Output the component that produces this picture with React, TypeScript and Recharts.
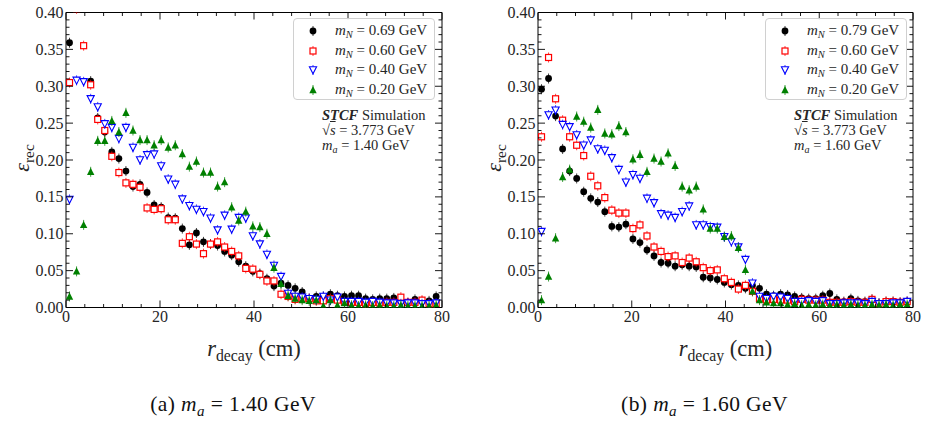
import React from "react";
import { ScatterChart, Scatter, XAxis, YAxis } from "recharts";

const FONT = '"Liberation Serif", "Times New Roman", serif';

// bin centres (cm)
const R_BINS = [0.75, 2.25, 3.75, 5.25, 6.75, 8.25, 9.75, 11.25, 12.75, 14.25, 15.75, 17.25, 18.75, 20.25, 21.75, 23.25, 24.75, 26.25, 27.75, 29.25, 30.75, 32.25, 33.75, 35.25, 36.75, 38.25, 39.75, 41.25, 42.75, 44.25, 45.75, 47.25, 48.75, 50.25, 51.75, 53.25, 54.75, 56.25, 57.75, 59.25, 60.75, 62.25, 63.75, 65.25, 66.75, 68.25, 69.75, 71.25, 72.75, 74.25, 75.75, 77.25, 78.75];

const X_TICKS = [0, 4, 8, 12, 16, 20, 24, 28, 32, 36, 40, 44, 48, 52, 56, 60, 64, 68, 72, 76, 80];
const Y_TICKS = [0, 0.01, 0.02, 0.03, 0.04, 0.05, 0.06, 0.07, 0.08, 0.09, 0.1, 0.11, 0.12, 0.13, 0.14, 0.15, 0.16, 0.17, 0.18, 0.19, 0.2, 0.21, 0.22, 0.23, 0.24, 0.25, 0.26, 0.27, 0.28, 0.29, 0.3, 0.31, 0.32, 0.33, 0.34, 0.35, 0.36, 0.37, 0.38, 0.39, 0.4];

// ---- panel (a): m_a = 1.40 GeV ----
const LEFT_MA = "1.40";
const LEFT_MN = ["0.69", "0.60", "0.40", "0.20"];
const LEFT_A = [0.359, null, null, 0.307, 0.257, 0.238, 0.211, 0.202, 0.185, 0.164, 0.167, 0.156, 0.139, 0.136, 0.122, 0.121, 0.107, 0.085, 0.101, 0.089, 0.086, 0.084, 0.076, 0.071, 0.062, 0.056, 0.049, 0.046, 0.039, 0.029, 0.033, 0.030, 0.026, 0.021, 0.012, 0.015, 0.015, 0.018, 0.016, 0.015, 0.016, 0.016, 0.012, 0.011, 0.012, 0.012, 0.013, 0.008, 0.006, 0.011, 0.008, 0.009, 0.015];
const LEFT_B = [0.305, 0.405, 0.355, 0.302, 0.255, 0.240, 0.205, 0.183, 0.169, 0.167, 0.163, 0.135, 0.133, 0.134, 0.119, 0.119, 0.087, 0.096, 0.086, 0.073, 0.086, 0.089, 0.082, 0.076, 0.070, 0.053, 0.052, 0.045, 0.036, 0.036, 0.018, 0.015, 0.011, 0.012, 0.012, 0.009, 0.009, 0.012, 0.010, 0.007, 0.007, 0.007, 0.005, 0.007, 0.006, 0.007, 0.007, 0.014, 0.007, 0.007, 0.010, 0.005, 0.005];
const LEFT_C = [0.1465, 0.308, 0.306, 0.283, 0.272, 0.249, 0.244, 0.229, 0.244, 0.217, 0.200, 0.207, 0.208, 0.192, 0.174, 0.167, 0.147, 0.138, 0.133, 0.130, 0.121, 0.105, 0.125, 0.106, 0.122, 0.121, 0.097, 0.086, 0.072, 0.057, 0.042, 0.019, 0.015, 0.014, 0.012, 0.011, 0.015, 0.010, 0.014, 0.008, 0.008, 0.008, 0.007, 0.008, 0.007, 0.006, 0.006, 0.005, 0.006, 0.006, 0.005, 0.005, 0.006];
const LEFT_D = [0.015, 0.049, 0.112, 0.184, 0.226, 0.226, 0.253, 0.238, 0.264, 0.240, 0.227, 0.227, 0.220, 0.227, 0.217, 0.220, 0.208, 0.191, 0.198, 0.183, 0.183, 0.164, 0.170, 0.136, 0.118, 0.130, 0.110, 0.109, 0.100, 0.054, 0.032, 0.016, 0.012, 0.010, 0.009, 0.010, 0.002, 0.010, 0.003, 0.006, 0.003, 0.002, 0.003, 0.002, 0.003, 0.002, 0.002, 0.003, 0.002, 0.002, 0.002, 0.002, 0.003];

// ---- panel (b): m_a = 1.60 GeV ----
const RIGHT_MA = "1.60";
const RIGHT_MN = ["0.79", "0.60", "0.40", "0.20"];
const RIGHT_A = [0.296, 0.3105, 0.2595, 0.215, 0.185, 0.175, 0.157, 0.148, 0.143, 0.130, 0.110, 0.109, 0.113, 0.093, 0.088, 0.078, 0.070, 0.061, 0.060, 0.056, 0.058, 0.056, 0.055, 0.041, 0.040, 0.038, 0.034, 0.031, 0.030, 0.026, 0.030, 0.026, 0.018, 0.016, 0.018, 0.017, 0.015, 0.013, 0.012, 0.012, 0.016, 0.019, 0.011, 0.008, 0.012, 0.009, 0.008, 0.011, 0.006, 0.008, 0.008, 0.007, 0.008];
const RIGHT_B = [0.2315, 0.339, 0.283, 0.254, 0.2315, 0.220, 0.206, 0.178, 0.165, 0.149, 0.132, 0.128, 0.128, 0.107, 0.112, 0.097, 0.082, 0.076, 0.069, 0.070, 0.061, 0.067, 0.062, 0.054, 0.050, 0.051, 0.039, 0.034, 0.025, 0.030, 0.022, 0.012, 0.010, 0.011, 0.010, 0.010, 0.008, 0.011, 0.010, 0.010, 0.010, 0.007, 0.007, 0.007, 0.008, 0.007, 0.007, 0.011, 0.005, 0.008, 0.008, 0.007, 0.008];
const RIGHT_C = [0.103, 0.261, 0.2676, 0.248, 0.245, 0.234, 0.220, 0.227, 0.215, 0.213, 0.203, 0.187, 0.170, 0.180, 0.175, 0.148, 0.142, 0.127, 0.125, 0.122, 0.130, 0.1375, 0.112, 0.112, 0.1095, 0.1087, 0.096, 0.089, 0.082, 0.065, 0.033, 0.015, 0.012, 0.015, 0.014, 0.012, 0.008, 0.008, 0.009, 0.008, 0.009, 0.005, 0.005, 0.006, 0.006, 0.006, 0.005, 0.008, 0.005, 0.005, 0.006, 0.006, 0.008];
const RIGHT_D = [0.010, 0.042, 0.094, 0.177, 0.187, 0.259, 0.252, 0.244, 0.268, 0.236, 0.235, 0.246, 0.238, 0.201, 0.207, 0.184, 0.202, 0.198, 0.209, 0.192, 0.164, 0.159, 0.164, 0.133, 0.107, 0.107, 0.096, 0.097, 0.081, 0.051, 0.022, 0.010, 0.007, 0.006, 0.006, 0.004, 0.005, 0.003, 0.004, 0.003, 0.004, 0.003, 0.004, 0.003, 0.004, 0.003, 0.003, 0.004, 0.003, 0.004, 0.003, 0.004, 0.004];

const COLORS = ["#000000", "#ff0000", "#0000ff", "#008000"];

type Pt = { r: number; v: number };
const mk = (vals: (number | null)[]): Pt[] =>
  R_BINS.map((r, i) => ({ r, v: vals[i] as number })).filter((d) => d.v !== null && d.v !== undefined);

// ---------- marker shapes ----------
const BAR = 5;
function MarkerGlyph({ kind, cx, cy }: { kind: number; cx: number; cy: number }) {
  const c = COLORS[kind];
  const bar = (
    <line x1={cx} x2={cx} y1={cy - BAR} y2={cy + BAR} stroke={c} strokeWidth={1} strokeOpacity={0.75} />
  );
  if (kind === 0)
    return (
      <g>
        {bar}
        <circle cx={cx} cy={cy} r={3.4} fill={c} />
      </g>
    );
  if (kind === 1)
    return (
      <g>
        {bar}
        <rect x={cx - 3} y={cy - 3} width={6} height={6} fill="#fff" stroke={c} strokeWidth={1.2} />
      </g>
    );
  if (kind === 2)
    return (
      <g>
        {bar}
        <polygon
          points={`${cx - 3.6},${cy - 3.2} ${cx + 3.6},${cy - 3.2} ${cx},${cy + 3.8}`}
          fill="#fff"
          stroke={c}
          strokeWidth={1.1}
        />
      </g>
    );
  return (
    <g>
      {bar}
      <polygon points={`${cx - 3.7},${cy + 3.2} ${cx + 3.7},${cy + 3.2} ${cx},${cy - 4}`} fill={c} />
    </g>
  );
}

const shapeFor = (kind: number) => (p: any) => <MarkerGlyph kind={kind} cx={p.cx} cy={p.cy} />;

// ---------- ticks ----------
const isMajorX = (v: number) => Math.abs(v % 20) < 1e-6;
const isMajorY = (v: number) => Math.round(v * 100) % 5 === 0;
const MAJ = 7;
const MIN = 3.5;
const TICK_FS = 16;
const TICK_COLOR = "#262626";

const BottomTick = (p: any) => {
  const v = p.payload.value;
  const m = isMajorX(v);
  return (
    <g>
      <line x1={p.x} x2={p.x} y1={p.y} y2={p.y - (m ? MAJ : MIN)} stroke="#000" strokeWidth={0.9} />
      {m && (
        <text x={p.x} y={p.y + 14.5} textAnchor="middle" fontFamily={FONT} fontSize={TICK_FS} fill={TICK_COLOR}>
          {v}
        </text>
      )}
    </g>
  );
};
const TopTick = (p: any) => {
  const v = p.payload.value;
  const m = isMajorX(v);
  return <line x1={p.x} x2={p.x} y1={p.y} y2={p.y + (m ? MAJ : MIN)} stroke="#000" strokeWidth={0.9} />;
};
const LeftTick = (p: any) => {
  const v = p.payload.value;
  const m = isMajorY(v);
  return (
    <g>
      <line x1={p.x} x2={p.x + (m ? MAJ : MIN)} y1={p.y} y2={p.y} stroke="#000" strokeWidth={0.9} />
      {m && (
        <text x={p.x - 2.5} y={p.y + 5.5} textAnchor="end" fontFamily={FONT} fontSize={TICK_FS} fill={TICK_COLOR}>
          {v.toFixed(2)}
        </text>
      )}
    </g>
  );
};
const RightTick = (p: any) => {
  const v = p.payload.value;
  const m = isMajorY(v);
  return <line x1={p.x} x2={p.x - (m ? MAJ : MIN)} y1={p.y} y2={p.y} stroke="#000" strokeWidth={0.9} />;
};

// ---------- text helpers ----------
const Sub = ({ children, italic }: { children: React.ReactNode; italic?: boolean }) => (
  <span style={{ fontSize: "0.7em", position: "relative", top: "0.3em", fontStyle: italic ? "italic" : "normal" }}>
    {children}
  </span>
);

const CHART_H = 330;
const TOP_H = 12.5;
const BOTTOM_H = 22.5;
const LEFT_W = 66;

function Panel({
  left,
  width,
  rightW,
  series,
  mn,
  ma,
  tag,
}: {
  left: number;
  width: number;
  rightW: number;
  series: (number | null)[][];
  mn: string[];
  ma: string;
  tag: string;
}) {
  const plotL = LEFT_W;
  const plotR = width - rightW;
  const plotCx = (plotL + plotR) / 2;
  const legendL = plotL + 227;
  const annoLines = [
    <>
      <b>
        <i>STCF</i>
      </b>{" "}
      Simulation
    </>,
    <>
      √<span style={{ textDecoration: "overline", fontStyle: "italic" }}>s</span> = 3.773 GeV
    </>,
    <>
      <i>m</i>
      <Sub italic>a</Sub> = {ma} GeV
    </>,
  ];
  return (
    <div style={{ position: "absolute", left, top: 0, width, height: 423, fontFamily: FONT }}>
      <ScatterChart width={width} height={CHART_H} margin={{ top: 0, right: 0, bottom: 0, left: 0 }}>
        <XAxis
          xAxisId="b"
          type="number"
          dataKey="r"
          domain={[0, 80]}
          allowDataOverflow
          ticks={X_TICKS}
          interval={0}
          height={BOTTOM_H}
          orientation="bottom"
          tickLine={false}
          tickSize={0}
          tickMargin={0}
          axisLine={{ stroke: "#000", strokeWidth: 1 }}
          tick={BottomTick}
        />
        <XAxis
          xAxisId="t"
          type="number"
          dataKey="r"
          domain={[0, 80]}
          allowDataOverflow
          ticks={X_TICKS}
          interval={0}
          height={TOP_H}
          orientation="top"
          tickLine={false}
          tickSize={0}
          tickMargin={0}
          axisLine={{ stroke: "#000", strokeWidth: 1 }}
          tick={TopTick}
        />
        <YAxis
          yAxisId="l"
          type="number"
          dataKey="v"
          domain={[0, 0.4]}
          allowDataOverflow
          ticks={Y_TICKS}
          interval={0}
          width={LEFT_W}
          orientation="left"
          tickLine={false}
          tickSize={0}
          tickMargin={0}
          axisLine={{ stroke: "#000", strokeWidth: 1 }}
          tick={LeftTick}
        />
        <YAxis
          yAxisId="r"
          type="number"
          dataKey="v"
          domain={[0, 0.4]}
          allowDataOverflow
          ticks={Y_TICKS}
          interval={0}
          width={rightW}
          orientation="right"
          tickLine={false}
          tickSize={0}
          tickMargin={0}
          axisLine={{ stroke: "#000", strokeWidth: 1 }}
          tick={RightTick}
        />
        <Scatter
          data={mk(series[0])}
          xAxisId="t"
          yAxisId="r"
          shape={() => <g />}
          isAnimationActive={false}
        />
        {series.map((s, k) => (
          <Scatter
            key={k}
            data={mk(s)}
            xAxisId="b"
            yAxisId="l"
            shape={shapeFor(k)}
            isAnimationActive={false}
          />
        ))}
      </ScatterChart>

      {/* legend */}
      <div
        style={{
          position: "absolute",
          left: legendL,
          top: 18,
          width: 142,
          height: 82,
          border: "1px solid #d0d0d0",
          borderRadius: 4,
          background: "rgba(255,255,255,0.85)",
          boxSizing: "border-box",
        }}
      >
        {mn.map((m, k) => (
          <div key={k} style={{ position: "absolute", left: 0, top: 2 + k * 19.6, height: 19.6, width: 142 }}>
            <svg width={30} height={20} style={{ position: "absolute", left: 4, top: 0 }}>
              <MarkerGlyph kind={k} cx={15} cy={10} />
            </svg>
            <div
              style={{
                position: "absolute",
                left: 41,
                top: 0,
                fontSize: 15,
                lineHeight: "19px",
                whiteSpace: "nowrap",
                color: "#262626",
              }}
            >
              <i>m</i>
              <Sub italic>N</Sub> = {m} GeV
            </div>
          </div>
        ))}
      </div>

      {/* annotation */}
      {annoLines.map((ln, k) => (
        <div
          key={k}
          style={{
            position: "absolute",
            left: legendL + 29,
            top: 108 + k * 15,
            fontSize: 14.5,
            lineHeight: "14px",
            height: 14,
            color: "#262626",
            whiteSpace: "nowrap",
          }}
        >
          {ln}
        </div>
      ))}

      {/* y label */}
      <div
        style={{
          position: "absolute",
          left: 22 - 40,
          top: 158 - 14,
          width: 80,
          height: 28,
          textAlign: "center",
          transform: "rotate(-90deg)",
          fontSize: 22,
          lineHeight: "28px",
          color: "#262626",
          whiteSpace: "nowrap",
        }}
      >
        <i>ε</i>
        <Sub>rec</Sub>
      </div>

      {/* x label */}
      <div
        style={{
          position: "absolute",
          left: plotCx - 100,
          top: 335,
          width: 200,
          textAlign: "center",
          fontSize: 22.5,
          lineHeight: "28px",
          color: "#262626",
          whiteSpace: "nowrap",
        }}
      >
        <i>r</i>
        <Sub>decay</Sub> (cm)
      </div>

      {/* caption */}
      <div
        style={{
          position: "absolute",
          left: plotCx - 21 - 150,
          top: 390,
          width: 300,
          textAlign: "center",
          fontSize: 21.5,
          letterSpacing: 0.4,
          lineHeight: "28px",
          color: "#111",
          whiteSpace: "nowrap",
        }}
      >
        ({tag}) <i>m</i>
        <Sub italic>a</Sub> = {ma} GeV
      </div>
    </div>
  );
}

export default function App() {
  return (
    <div style={{ position: "absolute", left: 0, top: 0, width: 926, height: 423, background: "#fff" }}>
      <Panel
        left={0}
        width={463}
        rightW={21}
        series={[LEFT_A, LEFT_B, LEFT_C, LEFT_D]}
        mn={LEFT_MN}
        ma={LEFT_MA}
        tag="a"
      />
      <Panel
        left={472}
        width={454}
        rightW={13}
        series={[RIGHT_A, RIGHT_B, RIGHT_C, RIGHT_D]}
        mn={RIGHT_MN}
        ma={RIGHT_MA}
        tag="b"
      />
    </div>
  );
}
